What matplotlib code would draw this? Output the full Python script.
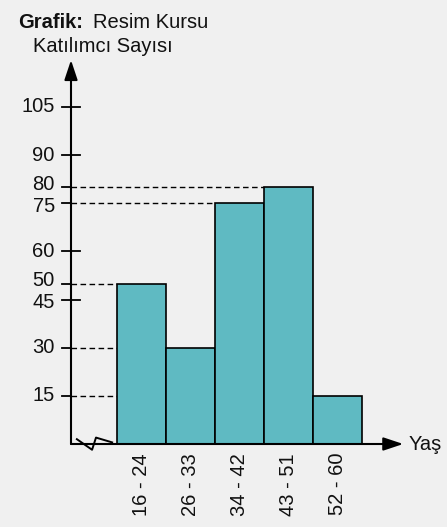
import matplotlib.pyplot as plt

plt.rcParams['font.family'] = ['Liberation Sans', 'DejaVu Sans']

# veriler
age_groups = ["16 - 24", "26 - 33", "34 - 42", "43 - 51", "52 - 60"]
participants = [50, 30, 75, 80, 15]
y_ticks = [15, 30, 45, 50, 60, 75, 80, 90, 105]

bg = "#f0f0f0"
bar_color = "#5fbac2"
fs = 14.5

fig = plt.figure(figsize=(4.47, 5.27), dpi=100, facecolor=bg)
# eksen: y ekseni x=71px, x ekseni y=444px
ax = fig.add_axes([71 / 447, 83 / 527, 376 / 447, 444 / 527])
ax.set_facecolor(bg)
ax.set_xlim(0, 376 / 49)
ax.set_ylim(0, 444 / 3.21)
ax.axis("off")

first_left = 0.94
lefts = [first_left + i for i in range(len(participants))]
ax.bar(lefts, participants, width=1, align="edge", color=bar_color,
       edgecolor="black", linewidth=1.2, zorder=3)

# y eksen çizgileri ve kesikli çizgiler
for v in y_ticks:
    ax.plot([-0.18, 0], [v, v], color="black", lw=1.3, zorder=2, clip_on=False)
    if v in participants:
        i = participants.index(v)
        ax.plot([0, lefts[i]], [v, v], color="black", lw=1.0,
                dashes=(4, 2.5), zorder=1)
    else:
        ax.plot([0, 0.18], [v, v], color="black", lw=1.3, zorder=2)
    # yakın etiketleri biraz ayır
    shift = 0
    if any(0 < v - t < 8 for t in y_ticks):
        shift = 0.9
    elif any(0 < t - v < 8 for t in y_ticks):
        shift = -0.9
    ax.text(-0.33, v + shift, str(v), ha="right", va="center", fontsize=fs,
            color="#111111", clip_on=False)

# eksenler
ax.annotate("", xy=(0, 119.6), xytext=(0, 0),
            arrowprops=dict(arrowstyle="-|>,head_length=0.6,head_width=0.2",
                            mutation_scale=20, lw=1.5, color="black",
                            shrinkA=0, shrinkB=0), zorder=5)
ax.annotate("", xy=(6.78, 0), xytext=(0, 0),
            arrowprops=dict(arrowstyle="-|>,head_length=0.6,head_width=0.2",
                            mutation_scale=20, lw=1.5, color="black",
                            shrinkA=0, shrinkB=0), zorder=5)
ax.text(6.88, 0, "Yaş", ha="left", va="center", fontsize=fs, color="#111111")

# kırık eksen işareti
ax.plot([0.12, 0.43, 0.51, 0.84], [1.5, -1.8, 2.0, 0.5], color="black",
        lw=1.4, zorder=4, clip_on=False)

# x etiketleri
for left, lab in zip(lefts, age_groups):
    ax.text(left + 0.5, -2.8, lab, rotation=90, ha="center", va="top",
            fontsize=fs, color="#111111", clip_on=False)

fig.text(18 / 447, 1 - 22 / 527, "Grafik:", fontsize=fs, fontweight="bold",
         va="center", ha="left", color="#111111")
fig.text(93 / 447, 1 - 22 / 527, "Resim Kursu", fontsize=fs, va="center",
         ha="left", color="#111111")
fig.text(33 / 447, 1 - 47 / 527, "Katılımcı Sayısı", fontsize=fs, va="center",
         ha="left", color="#111111", zorder=0)

fig.savefig("out.png", dpi=100, facecolor=bg)
